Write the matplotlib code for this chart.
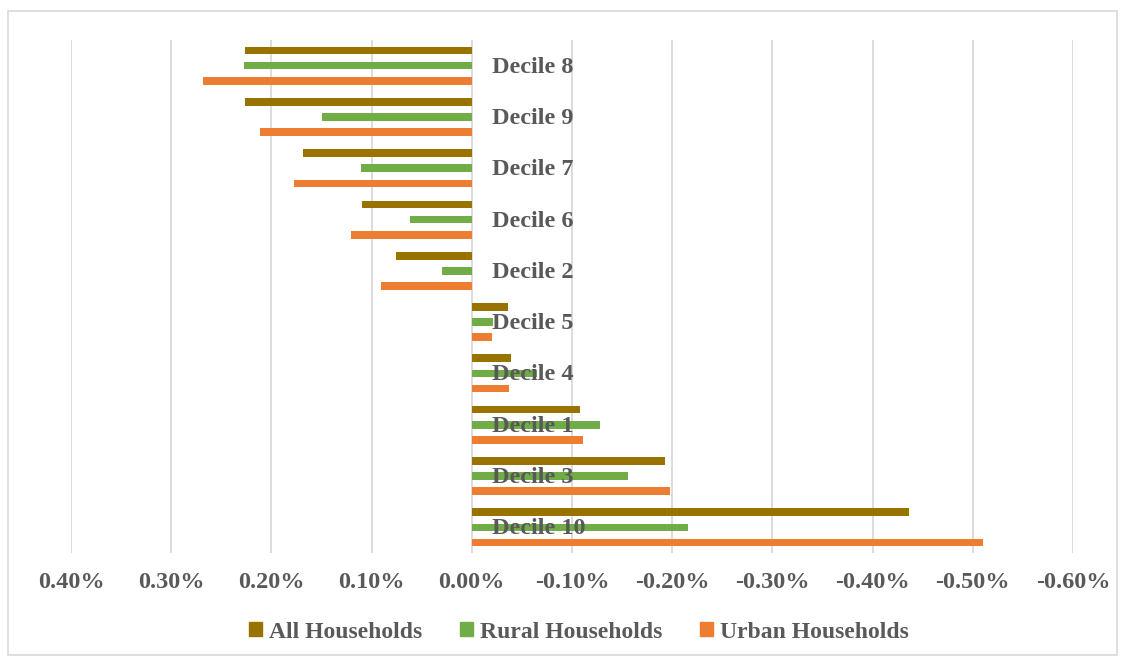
import numpy as np
import matplotlib
matplotlib.use("Agg")
import matplotlib.pyplot as plt
from matplotlib.patches import Rectangle, Patch
from matplotlib.ticker import FuncFormatter

# datos (en %), de arriba hacia abajo
deciles = ["Decile 8", "Decile 9", "Decile 7", "Decile 6", "Decile 2",
           "Decile 5", "Decile 4", "Decile 1", "Decile 3", "Decile 10"]
all_hh = [0.226, 0.226, 0.168, 0.110, 0.076, -0.036, -0.039, -0.108, -0.193, -0.436]
rural_hh = [0.227, 0.150, 0.111, 0.062, 0.030, -0.021, -0.065, -0.128, -0.156, -0.216]
urban_hh = [0.268, 0.211, 0.177, 0.121, 0.091, -0.020, -0.037, -0.111, -0.198, -0.510]
xticks = [0.40, 0.30, 0.20, 0.10, 0.00, -0.10, -0.20, -0.30, -0.40, -0.50, -0.60]

c_all = "#997300"
c_rural = "#70AD47"
c_urban = "#ED7D31"
txt = "#595959"

plt.rcParams["font.family"] = ["Liberation Serif", "DejaVu Serif"]
plt.rcParams["font.weight"] = "bold"

fig = plt.figure(figsize=(11.26, 6.61), dpi=100)
ax = fig.add_axes([71 / 1126, 1 - 553 / 661, (1073 - 71) / 1126, (553 - 40) / 661])

y = np.arange(len(deciles))
off = 0.295
h = 0.15
ax.barh(y - off, all_hh, height=h, color=c_all, zorder=2)
ax.barh(y, rural_hh, height=h, color=c_rural, zorder=2)
ax.barh(y + off, urban_hh, height=h, color=c_urban, zorder=2)

for i, lab in enumerate(deciles):
    ax.text(-0.02, y[i] + 0.03, lab, ha="left", va="center", fontsize=17.5,
            fontweight="bold", color=txt, zorder=3)

ax.set_xlim(0.40, -0.60)
ax.set_ylim(len(deciles) - 0.5, -0.5)
ax.set_xticks(xticks)
ax.xaxis.set_major_formatter(FuncFormatter(lambda v, p: f"{v:.2f}%" if abs(v) > 1e-9 else "0.00%"))
ax.tick_params(axis="x", length=0, pad=14, labelsize=17.5, labelcolor=txt)
ax.set_yticks([])
ax.grid(axis="x", color="#D9D9D9", linewidth=1.3, zorder=0)
ax.set_axisbelow(True)
for s in ax.spines.values():
    s.set_visible(False)

handles = [Patch(color=c_all, label="All Households"),
           Patch(color=c_rural, label="Rural Households"),
           Patch(color=c_urban, label="Urban Households")]
leg = fig.legend(handles=handles, loc="center", bbox_to_anchor=(0.514, 1 - 632 / 661),
                 ncol=3, frameon=False, fontsize=17, handlelength=0.55, handleheight=0.55,
                 handletextpad=0.3, columnspacing=1.6)
for t in leg.get_texts():
    t.set_color(txt)

fig.patches.append(Rectangle((8 / 1126, 1 - 655 / 661), (1117 - 8) / 1126, (655 - 11) / 661,
                             transform=fig.transFigure, fill=False, edgecolor="#D9D9D9",
                             linewidth=1.2))

fig.savefig("out.png", dpi=100)
